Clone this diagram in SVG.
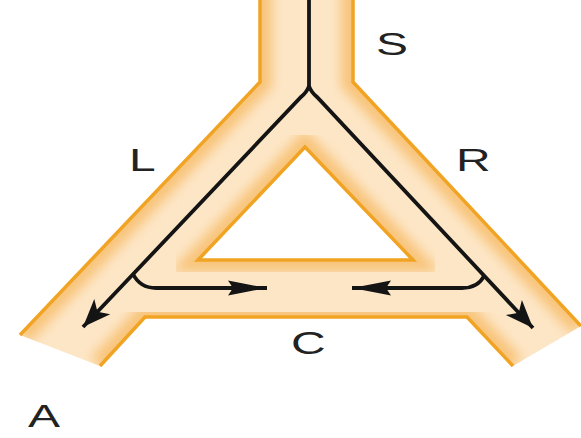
<svg xmlns="http://www.w3.org/2000/svg" width="581" height="438" viewBox="0 0 581 438">
<style>
.lbl{font-family:"Liberation Sans",Arial,sans-serif;font-size:32px;fill:#222}
.edge{fill:none;stroke:#f1a424;stroke-width:3.5;stroke-linejoin:miter}
.glow{fill:none;stroke:#f8c47a;stroke-width:24;filter:url(#blur)}
.flow{fill:none;stroke:#141414;stroke-width:3.8}
</style>
<defs>
<filter id="blur" x="-10%" y="-10%" width="120%" height="120%"><feGaussianBlur stdDeviation="6"/></filter>
<clipPath id="tubeClip"><path clip-rule="evenodd" d="M260,0 V82 L20,335 L100,366 L145,317 H467 L513,366 L581,326 L353,82 V0 Z M305,147 L198,260 H413 Z"/></clipPath>
<marker id="headD" viewBox="-30 -12 32 24" refX="0" refY="0" markerWidth="32" markerHeight="24" markerUnits="userSpaceOnUse" orient="auto"><path d="M0,0 L-28,-11 L-21,0 L-28,11 Z" fill="#141414"/></marker>
<marker id="headH" viewBox="-40 -9 42 18" refX="0" refY="0" markerWidth="42" markerHeight="18" markerUnits="userSpaceOnUse" orient="auto"><path d="M0,0 L-39,-7.5 L-34,0 L-39,7.5 Z" fill="#141414"/></marker>
</defs>
<g id="tube">
<path fill="#fde6c6" fill-rule="evenodd" d="M260,0 V82 L20,335 L100,366 L145,317 H467 L513,366 L581,326 L353,82 V0 Z M305,147 L198,260 H413 Z"/>
<g clip-path="url(#tubeClip)">
<path class="glow" d="M260,-20 V82 L20,335"/>
<path class="glow" d="M100,366 L145,317 H467 L513,366"/>
<path class="glow" d="M581,326 L353,82 V-20"/>
<path class="glow" d="M305,147 L198,260 H413 Z"/>
</g>
<path class="edge" d="M260,0 V82 L20,335"/>
<path class="edge" d="M100,366 L145,317 H467 L513,366"/>
<path class="edge" d="M581,326 L353,82 V0"/>
<path class="edge" d="M305,147 L198,260 H413 Z"/>
</g>
<g id="connectors">
<path class="flow" d="M309,0 V86"/>
<path class="flow" d="M309,86 Q307,92 301,97 L83,327" marker-end="url(#headD)"/>
<path class="flow" d="M309,86 Q311,92 317,97 L533,328" marker-end="url(#headD)"/>
<path class="flow" d="M133,274 Q140,288 156,288 H267" marker-end="url(#headH)"/>
<path class="flow" d="M484,276 Q478,288 462,288 H352" marker-end="url(#headH)"/>
</g>
<g id="labels">
<text class="lbl" transform="translate(376,55) scale(1.5,1)">S</text>
<text class="lbl" transform="translate(129,171) scale(1.5,1)">L</text>
<text class="lbl" transform="translate(456,171) scale(1.5,1)">R</text>
<text class="lbl" transform="translate(291,354) scale(1.5,1)">C</text>
<text class="lbl" transform="translate(28,427) scale(1.5,1)">A</text>
</g>
</svg>
